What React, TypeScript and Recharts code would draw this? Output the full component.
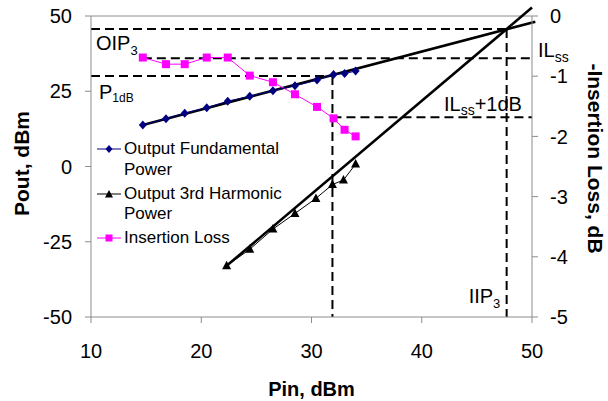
import { ComposedChart, Line, XAxis, YAxis, ReferenceLine, Legend } from 'recharts';

// measured input power, dBm
const pinFund = [14.7, 16.8, 18.5, 20.5, 22.4, 24.4, 26.5, 28.5, 30.5, 32.0, 33.0, 34.0];
const poutFund = [13.8, 15.9, 17.7, 19.5, 21.7, 23.3, 25.2, 26.8, 28.7, 30.6, 30.9, 31.7];
const insLoss = [-0.69, -0.8, -0.8, -0.69, -0.69, -0.99, -1.1, -1.3, -1.51, -1.7, -1.89, -2.0];
const pinHarm = [22.3, 24.4, 26.5, 28.5, 30.4, 31.9, 32.9, 34.0];
const poutHarm = [-33.0, -27.5, -20.8, -15.6, -10.6, -6.0, -4.5, 0.8];

// fitted straight lines (end points)
const fundFitPin = [14.7, 50.3];
const fundFitPout = [13.8, 48.1];
const harmFitPin = [22.3, 50.0];
const harmFitPout = [-33.0, 52.8];

// marker levels
const oip3 = 45.7;
const iip3 = 47.7;
const p1dB = 30.1;
const pin1dB = 31.9;
const ilSS = -0.7;
const ilSS1dB = -1.68;

const xTicks = [10, 20, 30, 40, 50];
const yTicks = [-50, -25, 0, 25, 50];
const ilTicks = [-5, -4, -3, -2, -1, 0];

const FONT = '"Liberation Sans", Arial, sans-serif';
const AXIS_GRAY = '#8c8c8c';

const fundData = pinFund.map((x, i) => ({ x, y: poutFund[i] }));
const ilData = pinFund.map((x, i) => ({ x, il: insLoss[i] }));
const harmData = pinHarm.map((x, i) => ({ x, y: poutHarm[i] }));

const Diamond = (p: any) => {
  const { cx, cy } = p;
  if (cx == null || cy == null) return null;
  return <polygon key={`d${p.index}`} points={`${cx},${cy - 4.5} ${cx + 4},${cy} ${cx},${cy + 4.5} ${cx - 4},${cy}`} fill="#000080" />;
};
const Triangle = (p: any) => {
  const { cx, cy } = p;
  if (cx == null || cy == null) return null;
  return <polygon key={`t${p.index}`} points={`${cx},${cy - 5} ${cx + 4.5},${cy + 3.5} ${cx - 4.5},${cy + 3.5}`} fill="#000" />;
};
const Square = (p: any) => {
  const { cx, cy } = p;
  if (cx == null || cy == null) return null;
  return <rect key={`s${p.index}`} x={cx - 4} y={cy - 4} width={8} height={8} fill="#ff00ff" />;
};

const dashProps = { stroke: '#000', strokeWidth: 2, strokeDasharray: '9 5', ifOverflow: 'visible' as const };

const LegendBox = () => {
  const icon = (color: string, mark: string) => (
    <svg width={24} height={12} style={{ marginRight: 3, flex: 'none', marginTop: 4 }}>
      <line x1={0} y1={6} x2={24} y2={6} stroke={color} strokeWidth={1} />
      {mark === 'd' && <polygon points="12,2 15.5,6 12,10 8.5,6" fill={color} />}
      {mark === 't' && <polygon points="12,2 16,9.5 8,9.5" fill={color} />}
      {mark === 's' && <rect x={8.5} y={2.5} width={7} height={7} fill={color} />}
    </svg>
  );
  const items = [
    { color: '#000080', mark: 'd', lines: ['Output Fundamental', 'Power'] },
    { color: '#000', mark: 't', lines: ['Output 3rd Harmonic', 'Power'] },
    { color: '#ff00ff', mark: 's', lines: ['Insertion Loss'] },
  ];
  return (
    <div style={{ fontFamily: FONT, fontSize: 17, lineHeight: '20.5px', color: '#000' }}>
      {items.map((it) => (
        <div key={it.lines[0]} style={{ display: 'flex', alignItems: 'flex-start', marginBottom: 3.5 }}>
          {icon(it.color, it.mark)}
          <div>
            {it.lines.map((l) => (
              <div key={l}>{l}</div>
            ))}
          </div>
        </div>
      ))}
    </div>
  );
};

export default function App() {
  return (
    <div style={{ position: 'absolute', left: 0, top: 0, width: 608, height: 401, background: '#fff' }}>
      <ComposedChart
        width={608}
        height={401}
        margin={{ top: 16, right: 0, bottom: 0, left: 0 }}
        style={{ fontFamily: FONT }}
      >
        <XAxis
          type="number"
          dataKey="x"
          domain={[10, 50]}
          ticks={xTicks}
          height={84}
          tickSize={6}
          tickMargin={21}
          axisLine={{ stroke: AXIS_GRAY }}
          tickLine={{ stroke: AXIS_GRAY }}
          tick={{ fill: '#000', fontSize: 20, fontFamily: FONT }}
          label={{
            content: ({ viewBox }: any) => (
              <text
                x={viewBox.x + viewBox.width / 2}
                y={viewBox.y + 79}
                textAnchor="middle"
                fontSize={20}
                fontWeight="bold"
                fontFamily={FONT}
              >
                Pin, dBm
              </text>
            ),
          }}
        />
        <YAxis
          yAxisId="left"
          type="number"
          domain={[-50, 50]}
          ticks={yTicks}
          width={91}
          tickSize={6}
          tickMargin={13}
          axisLine={{ stroke: AXIS_GRAY }}
          tickLine={{ stroke: AXIS_GRAY }}
          tick={{ fill: '#000', fontSize: 20, fontFamily: FONT }}
          label={{
            content: ({ viewBox }: any) => {
              const cx = 21;
              const cy = viewBox.y + viewBox.height / 2 - 3;
              return (
                <text
                  x={cx}
                  y={cy}
                  transform={`rotate(-90, ${cx}, ${cy})`}
                  textAnchor="middle"
                  dominantBaseline="central"
                  fontSize={21}
                  fontWeight="bold"
                  fontFamily={FONT}
                >
                  Pout, dBm
                </text>
              );
            },
          }}
        />
        <YAxis
          yAxisId="il"
          orientation="right"
          type="number"
          domain={[-5, 0]}
          ticks={ilTicks}
          width={76}
          tickSize={6}
          tickMargin={12}
          axisLine={{ stroke: AXIS_GRAY }}
          tickLine={{ stroke: AXIS_GRAY }}
          tick={{ fill: '#000', fontSize: 20, fontFamily: FONT }}
          label={{
            content: ({ viewBox }: any) => {
              const cx = viewBox.x + 63;
              const cy = viewBox.y + viewBox.height / 2 - 8;
              return (
                <text
                  x={cx}
                  y={cy}
                  transform={`rotate(90, ${cx}, ${cy})`}
                  textAnchor="middle"
                  dominantBaseline="central"
                  fontSize={21}
                  fontWeight="bold"
                  fontFamily={FONT}
                >
                  -Insertion Loss, dB
                </text>
              );
            },
          }}
        />

        {/* top border of plot */}
        <ReferenceLine yAxisId="left" y={50} stroke={AXIS_GRAY} strokeWidth={1} ifOverflow="visible" />

        {/* dashed guide lines */}
        <ReferenceLine
          yAxisId="left"
          segment={[{ x: 10, y: oip3 }, { x: iip3, y: oip3 }]}
          {...dashProps}
          label={{
            content: ({ viewBox }: any) => (
              <text x={viewBox.x + 5} y={viewBox.y + 21} fontSize={20} fontFamily={FONT}>
                OIP
                <tspan fontSize={13} dy={5}>3</tspan>
              </text>
            ),
          }}
        />
        <ReferenceLine
          yAxisId="left"
          segment={[{ x: iip3, y: oip3 }, { x: iip3, y: -50 }]}
          {...dashProps}
          label={{
            content: ({ viewBox }: any) => (
              <text x={viewBox.x - 38} y={viewBox.y + viewBox.height - 14} fontSize={20} fontFamily={FONT}>
                IIP
                <tspan fontSize={13} dy={5}>3</tspan>
              </text>
            ),
          }}
        />
        <ReferenceLine
          yAxisId="left"
          segment={[{ x: 10, y: p1dB }, { x: pin1dB, y: p1dB }]}
          {...dashProps}
          label={{
            content: ({ viewBox }: any) => (
              <text x={viewBox.x + 8} y={viewBox.y + 23} fontSize={20} fontFamily={FONT}>
                P
                <tspan fontSize={12} dy={3}>1dB</tspan>
              </text>
            ),
          }}
        />
        <ReferenceLine yAxisId="left" segment={[{ x: pin1dB, y: p1dB }, { x: pin1dB, y: -50 }]} {...dashProps} />
        <ReferenceLine
          yAxisId="il"
          segment={[{ x: pinFund[0], y: ilSS }, { x: 50, y: ilSS }]}
          {...dashProps}
          label={{
            content: ({ viewBox }: any) => (
              <text x={viewBox.x + viewBox.width + 6} y={viewBox.y - 1} fontSize={20} fontFamily={FONT}>
                IL
                <tspan fontSize={14} dy={5}>ss</tspan>
              </text>
            ),
          }}
        />
        <ReferenceLine
          yAxisId="il"
          segment={[{ x: pin1dB, y: ilSS1dB }, { x: 50, y: ilSS1dB }]}
          {...dashProps}
          label={{
            content: ({ viewBox }: any) => (
              <text x={viewBox.x + viewBox.width - 88} y={viewBox.y - 6} fontSize={20} fontFamily={FONT}>
                IL
                <tspan fontSize={14} dy={4}>ss</tspan>
                <tspan dy={-4}>+1dB</tspan>
              </text>
            ),
          }}
        />

        {/* fitted lines */}
        <ReferenceLine
          yAxisId="left"
          segment={[{ x: fundFitPin[0], y: fundFitPout[0] }, { x: fundFitPin[1], y: fundFitPout[1] }]}
          stroke="#000"
          strokeWidth={2.6}
          ifOverflow="visible"
        />
        <ReferenceLine
          yAxisId="left"
          segment={[{ x: harmFitPin[0], y: harmFitPout[0] }, { x: harmFitPin[1], y: harmFitPout[1] }]}
          stroke="#000"
          strokeWidth={2.6}
          ifOverflow="visible"
        />

        <Line
          yAxisId="il"
          data={ilData}
          dataKey="il"
          name="Insertion Loss"
          stroke="#ff00ff"
          strokeWidth={1}
          dot={Square}
          activeDot={false}
          isAnimationActive={false}
        />
        <Line
          yAxisId="left"
          data={harmData}
          dataKey="y"
          name="Output 3rd Harmonic Power"
          stroke="#000"
          strokeWidth={1}
          dot={Triangle}
          activeDot={false}
          isAnimationActive={false}
        />
        <Line
          yAxisId="left"
          data={fundData}
          dataKey="y"
          name="Output Fundamental Power"
          stroke="#000080"
          strokeWidth={1}
          dot={Diamond}
          activeDot={false}
          isAnimationActive={false}
        />

        <Legend
          layout="vertical"
          align="center"
          verticalAlign="middle"
          content={() => <LegendBox />}
          wrapperStyle={{ left: 97, top: 139, width: 200 }}
        />
      </ComposedChart>
    </div>
  );
}
